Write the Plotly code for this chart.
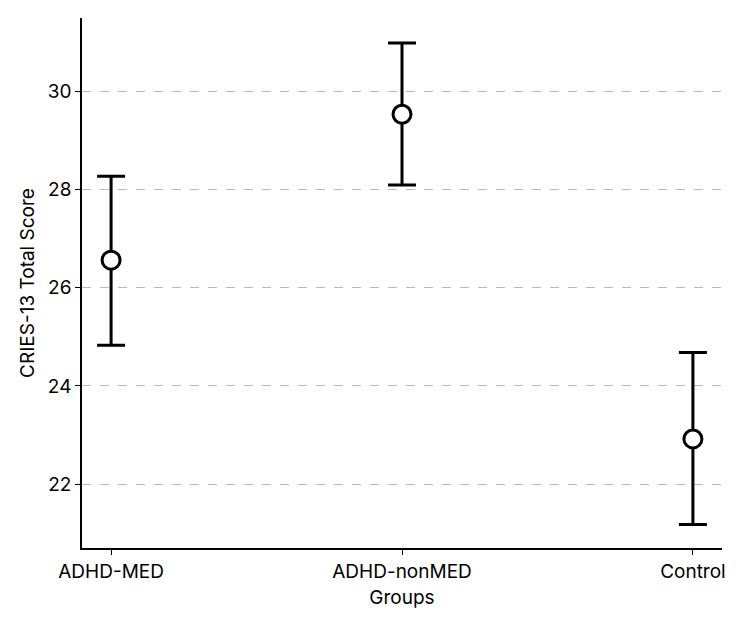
import plotly.graph_objects as go

groups = ["ADHD-MED", "ADHD-nonMED", "Control"]
means = [26.56, 29.53, 22.92]
upper = [28.27, 30.98, 24.68]
lower = [24.83, 28.09, 21.18]

err_plus = [u - m for u, m in zip(upper, means)]
err_minus = [m - l for m, l in zip(means, lower)]

fig = go.Figure()
fig.add_trace(go.Scatter(
    x=list(range(len(groups))), y=means, mode="markers",
    marker=dict(size=18, color="white", line=dict(color="black", width=3)),
    error_y=dict(type="data", symmetric=False, array=err_plus, arrayminus=err_minus,
                 color="black", thickness=3, width=14),
    showlegend=False,
))

fig.update_layout(
    width=750, height=625,
    margin=dict(l=82, r=28, t=18, b=77),
    plot_bgcolor="white", paper_bgcolor="white",
    font=dict(family="Inter", size=19, color="black"),
)
fig.update_xaxes(
    range=[-0.1, 2.1], tickvals=list(range(len(groups))), ticktext=groups,
    tickfont=dict(size=19),
    showline=True, linecolor="black", linewidth=1.5, ticks="outside", ticklen=5,
    tickcolor="black", showgrid=False, zeroline=False,
    title=dict(text="Groups", standoff=9, font=dict(size=19)),
)
fig.update_yaxes(
    range=[20.7, 31.49], tickvals=[22, 24, 26, 28, 30],
    tickfont=dict(size=19),
    showline=True, linecolor="black", linewidth=1.5, ticks="outside", ticklen=5,
    tickcolor="black", showgrid=True, gridcolor="#b8b8b8", griddash="dash", gridwidth=1,
    zeroline=False, title=dict(text="CRIES-13 Total Score", standoff=8, font=dict(size=19)),
)
fig.write_html("out.html")
